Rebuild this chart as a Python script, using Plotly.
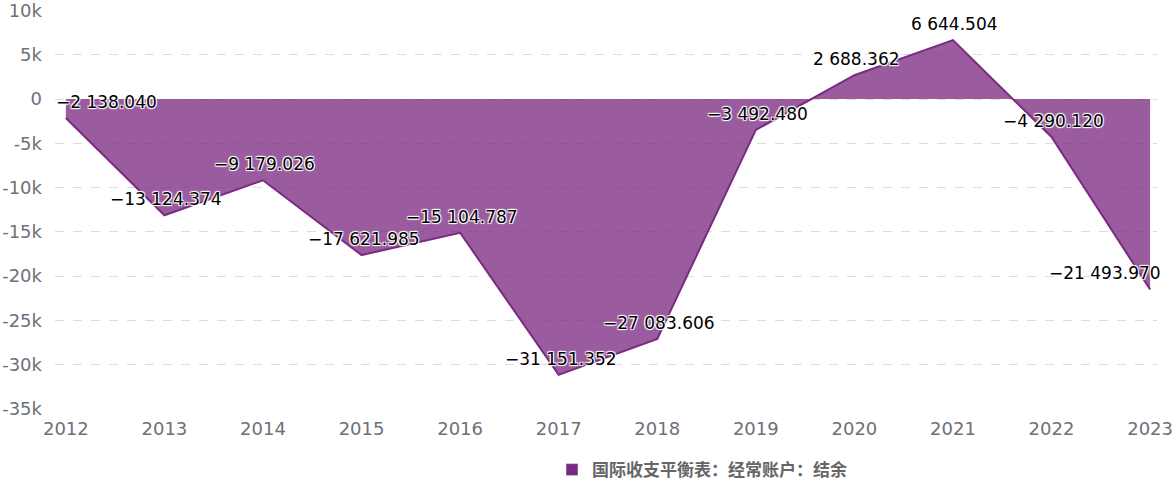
import plotly.graph_objects as go

years = [2012, 2013, 2014, 2015, 2016, 2017, 2018, 2019, 2020, 2021, 2022, 2023]
values = [-2138.040, -13124.374, -9179.026, -17621.985, -15104.787, -31151.352,
          -27083.606, -3492.480, 2688.362, 6644.504, -4290.120, -21493.970]
series_name = "国际收支平衡表：经常账户：结余"
y_ticks = [10000, 5000, 0, -5000, -10000, -15000, -20000, -25000, -30000, -35000]
y_tick_text = ["10k", "5k", "0", "-5k", "-10k", "-15k", "-20k", "-25k", "-30k", "-35k"]

labels = [f"{v:,.3f}".replace(",", " ").replace("-", "\u2212") for v in values]
label_xshift = [41] + [2] * 10 + [-45]

fig = go.Figure()
fig.add_trace(go.Scatter(
    x=years, y=values, name=series_name,
    mode="lines",
    fill="tozeroy",
    fillcolor="rgba(123,42,130,0.77)",
    line=dict(color="#7b2a82", width=2),
    showlegend=False,
))
# legend entry (square swatch)
fig.add_trace(go.Bar(x=[None], y=[None], name=series_name,
                     marker=dict(color="#7b2a82"), showlegend=True))

shadow = "1px 1px 1px #fff, -1px -1px 1px #fff, 1px -1px 1px #fff, -1px 1px 1px #fff"
for x, y, t, xs in zip(years, values, labels, label_xshift):
    fig.add_annotation(x=x, y=y, text=t, showarrow=False, xanchor="center", yanchor="middle",
                       xshift=xs, yshift=16,
                       font=dict(family="DejaVu Sans", size=17, color="#000", shadow=shadow))

fig.update_layout(
    width=1174, height=482,
    margin=dict(l=55, r=17, t=10, b=73, autoexpand=False),
    paper_bgcolor="white", plot_bgcolor="white",
    showlegend=True,
    legend=dict(orientation="h", x=0.451, xanchor="left", y=-0.153, yanchor="middle",
                font=dict(family="Noto Sans CJK SC", size=17, color="#666", weight="bold"),
                itemwidth=30),
    xaxis=dict(range=[2011.89, 2023.07], tickvals=years, ticktext=[str(y) for y in years],
               showgrid=False, zeroline=False, showline=False, ticks="",
               ticklabeloverflow="allow", ticklabelstandoff=7,
               tickfont=dict(family="DejaVu Sans", size=18, color="#6e7079")),
    yaxis=dict(range=[-35000, 10050], tickvals=y_ticks, ticktext=y_tick_text,
               showgrid=True, gridcolor="#dcdcdc", griddash="dash", zeroline=False,
               ticklabeloverflow="allow",
               tickfont=dict(family="DejaVu Sans", size=18, color="#6e7079"),
               ticklabelstandoff=12),
)

fig.write_html("out.html")
